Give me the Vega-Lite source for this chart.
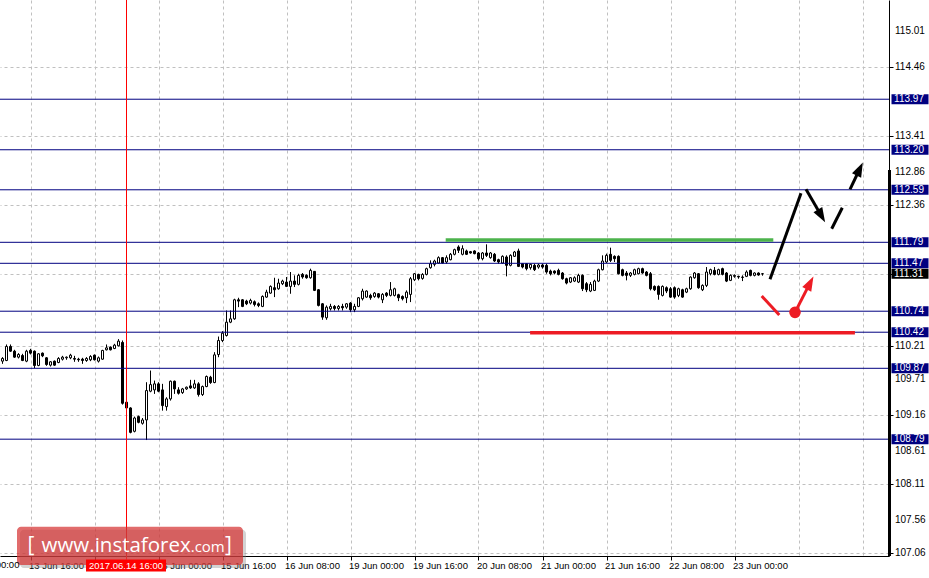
{
  "$schema": "https://vega.github.io/schema/vega-lite/v6.json",
  "width": 889,
  "height": 556,
  "autosize": {"type": "none"},
  "padding": {"left": 0, "top": 0, "right": 40, "bottom": 22},
  "background": "white",
  "config": {"view": {"stroke": null}, "axis": {"labelOverlap": false, "labelFlush": false, "labelBound": false}},
  "datasets": {
    "candles": [
      {"t":-7,"o":109.979,"h":110.04,"l":109.938,"c":110.02},
      {"t":-6,"o":109.989,"h":110.233,"l":109.979,"c":110.203},
      {"t":-5,"o":110.203,"h":110.233,"l":110.121,"c":110.131},
      {"t":-4,"o":110.131,"h":110.152,"l":110.03,"c":110.04},
      {"t":-3,"o":110.04,"h":110.101,"l":110.02,"c":110.081},
      {"t":-2,"o":110.065,"h":110.091,"l":109.979,"c":109.989},
      {"t":-1,"o":109.979,"h":110.152,"l":109.963,"c":110.131},
      {"t":0,"o":110.142,"h":110.167,"l":110.081,"c":110.101},
      {"t":1,"o":110.131,"h":110.142,"l":109.872,"c":109.913},
      {"t":2,"o":109.913,"h":110.101,"l":109.902,"c":110.091},
      {"t":3,"o":110.101,"h":110.111,"l":110.04,"c":110.06},
      {"t":4,"o":110.03,"h":110.04,"l":109.908,"c":109.928},
      {"t":5,"o":109.918,"h":109.979,"l":109.897,"c":109.969},
      {"t":6,"o":109.979,"h":109.989,"l":109.908,"c":109.918},
      {"t":7,"o":109.958,"h":110.04,"l":109.948,"c":110.02},
      {"t":8,"o":110.009,"h":110.06,"l":109.989,"c":110.04},
      {"t":9,"o":110.03,"h":110.05,"l":110.0,"c":110.04},
      {"t":10,"o":110.03,"h":110.091,"l":110.009,"c":110.07},
      {"t":11,"o":110.02,"h":110.06,"l":109.969,"c":110.009},
      {"t":12,"o":110.009,"h":110.03,"l":109.969,"c":110.0},
      {"t":13,"o":110.009,"h":110.03,"l":109.938,"c":109.989},
      {"t":14,"o":109.989,"h":110.04,"l":109.969,"c":110.02},
      {"t":15,"o":110.0,"h":110.07,"l":109.979,"c":110.05},
      {"t":16,"o":110.07,"h":110.081,"l":109.989,"c":110.0},
      {"t":17,"o":109.979,"h":110.05,"l":109.958,"c":110.03},
      {"t":18,"o":110.009,"h":110.152,"l":110.0,"c":110.142},
      {"t":19,"o":110.152,"h":110.233,"l":110.142,"c":110.182},
      {"t":20,"o":110.193,"h":110.203,"l":110.142,"c":110.152},
      {"t":21,"o":110.172,"h":110.243,"l":110.162,"c":110.223},
      {"t":22,"o":110.213,"h":110.315,"l":110.203,"c":110.284},
      {"t":23,"o":110.264,"h":110.294,"l":109.317,"c":109.337},
      {"t":24,"o":109.353,"h":109.368,"l":109.256,"c":109.266},
      {"t":25,"o":109.266,"h":109.276,"l":108.879,"c":108.894},
      {"t":26,"o":108.91,"h":109.134,"l":108.894,"c":109.113},
      {"t":27,"o":109.134,"h":109.149,"l":109.032,"c":109.047},
      {"t":28,"o":109.032,"h":109.113,"l":109.012,"c":109.083},
      {"t":29,"o":109.083,"h":109.658,"l":108.777,"c":109.531},
      {"t":30,"o":109.521,"h":109.836,"l":109.505,"c":109.622},
      {"t":31,"o":109.541,"h":109.683,"l":109.48,"c":109.633},
      {"t":32,"o":109.633,"h":109.658,"l":109.505,"c":109.521},
      {"t":33,"o":109.541,"h":109.633,"l":109.225,"c":109.302},
      {"t":34,"o":109.286,"h":109.429,"l":109.225,"c":109.404},
      {"t":35,"o":109.404,"h":109.683,"l":109.378,"c":109.673},
      {"t":36,"o":109.673,"h":109.683,"l":109.48,"c":109.556},
      {"t":37,"o":109.541,"h":109.582,"l":109.47,"c":109.49},
      {"t":38,"o":109.5,"h":109.571,"l":109.48,"c":109.556},
      {"t":39,"o":109.556,"h":109.592,"l":109.541,"c":109.582},
      {"t":40,"o":109.602,"h":109.694,"l":109.556,"c":109.571},
      {"t":41,"o":109.571,"h":109.694,"l":109.556,"c":109.633},
      {"t":42,"o":109.633,"h":109.658,"l":109.439,"c":109.47},
      {"t":43,"o":109.47,"h":109.607,"l":109.449,"c":109.592},
      {"t":44,"o":109.592,"h":109.76,"l":109.582,"c":109.745},
      {"t":45,"o":109.734,"h":109.755,"l":109.633,"c":109.653},
      {"t":46,"o":109.653,"h":110.116,"l":109.643,"c":110.075},
      {"t":47,"o":110.08,"h":110.354,"l":110.039,"c":110.293},
      {"t":48,"o":110.293,"h":110.436,"l":110.268,"c":110.405},
      {"t":49,"o":110.37,"h":110.751,"l":110.354,"c":110.573},
      {"t":50,"o":110.573,"h":110.751,"l":110.558,"c":110.624},
      {"t":51,"o":110.624,"h":110.93,"l":110.609,"c":110.914},
      {"t":52,"o":110.914,"h":110.945,"l":110.802,"c":110.894},
      {"t":53,"o":110.914,"h":110.925,"l":110.802,"c":110.813},
      {"t":54,"o":110.894,"h":110.914,"l":110.833,"c":110.853},
      {"t":55,"o":110.864,"h":110.93,"l":110.843,"c":110.904},
      {"t":56,"o":110.884,"h":110.904,"l":110.813,"c":110.843},
      {"t":57,"o":110.853,"h":110.874,"l":110.802,"c":110.828},
      {"t":58,"o":110.813,"h":110.981,"l":110.802,"c":110.965},
      {"t":59,"o":110.955,"h":111.067,"l":110.945,"c":111.031},
      {"t":60,"o":111.016,"h":111.133,"l":111.006,"c":111.118},
      {"t":61,"o":111.098,"h":111.25,"l":110.955,"c":111.067},
      {"t":62,"o":111.082,"h":111.235,"l":111.067,"c":111.169},
      {"t":63,"o":111.159,"h":111.22,"l":111.138,"c":111.199},
      {"t":64,"o":111.184,"h":111.261,"l":111.108,"c":111.118},
      {"t":65,"o":111.118,"h":111.337,"l":111.006,"c":111.199},
      {"t":66,"o":111.199,"h":111.286,"l":111.108,"c":111.149},
      {"t":67,"o":111.149,"h":111.311,"l":111.133,"c":111.286},
      {"t":68,"o":111.301,"h":111.322,"l":111.235,"c":111.261},
      {"t":69,"o":111.286,"h":111.301,"l":111.235,"c":111.25},
      {"t":70,"o":111.25,"h":111.388,"l":111.235,"c":111.362},
      {"t":71,"o":111.347,"h":111.352,"l":111.047,"c":111.057},
      {"t":72,"o":111.067,"h":111.077,"l":110.813,"c":110.828},
      {"t":73,"o":110.853,"h":110.864,"l":110.609,"c":110.65},
      {"t":74,"o":110.64,"h":110.828,"l":110.609,"c":110.802},
      {"t":75,"o":110.777,"h":110.853,"l":110.751,"c":110.813},
      {"t":76,"o":110.813,"h":110.833,"l":110.751,"c":110.782},
      {"t":77,"o":110.782,"h":110.833,"l":110.751,"c":110.813},
      {"t":78,"o":110.813,"h":110.853,"l":110.751,"c":110.792},
      {"t":79,"o":110.802,"h":110.864,"l":110.777,"c":110.853},
      {"t":80,"o":110.864,"h":110.879,"l":110.726,"c":110.762},
      {"t":81,"o":110.762,"h":110.853,"l":110.726,"c":110.813},
      {"t":82,"o":110.813,"h":110.955,"l":110.802,"c":110.945},
      {"t":83,"o":110.93,"h":111.082,"l":110.904,"c":111.047},
      {"t":84,"o":110.955,"h":111.057,"l":110.945,"c":111.047},
      {"t":85,"o":110.981,"h":111.006,"l":110.914,"c":110.945},
      {"t":86,"o":110.965,"h":111.031,"l":110.945,"c":111.016},
      {"t":87,"o":111.006,"h":111.016,"l":110.935,"c":110.955},
      {"t":88,"o":110.914,"h":111.016,"l":110.864,"c":110.996},
      {"t":89,"o":111.016,"h":111.031,"l":110.955,"c":110.981},
      {"t":90,"o":110.981,"h":111.184,"l":110.965,"c":111.067},
      {"t":91,"o":110.981,"h":111.098,"l":110.965,"c":111.082},
      {"t":92,"o":110.991,"h":111.006,"l":110.894,"c":110.945},
      {"t":93,"o":110.965,"h":110.981,"l":110.904,"c":110.93},
      {"t":94,"o":110.945,"h":111.057,"l":110.864,"c":111.031},
      {"t":95,"o":110.996,"h":111.261,"l":110.879,"c":111.235},
      {"t":96,"o":111.22,"h":111.322,"l":111.199,"c":111.311},
      {"t":97,"o":111.301,"h":111.311,"l":111.21,"c":111.235},
      {"t":98,"o":111.24,"h":111.32,"l":111.22,"c":111.3},
      {"t":99,"o":111.301,"h":111.403,"l":111.286,"c":111.388},
      {"t":100,"o":111.403,"h":111.515,"l":111.388,"c":111.464},
      {"t":101,"o":111.454,"h":111.525,"l":111.423,"c":111.505},
      {"t":102,"o":111.474,"h":111.576,"l":111.464,"c":111.556},
      {"t":103,"o":111.556,"h":111.566,"l":111.464,"c":111.474},
      {"t":104,"o":111.49,"h":111.591,"l":111.464,"c":111.556},
      {"t":105,"o":111.525,"h":111.627,"l":111.515,"c":111.607},
      {"t":106,"o":111.607,"h":111.693,"l":111.591,"c":111.678},
      {"t":107,"o":111.719,"h":111.744,"l":111.627,"c":111.668},
      {"t":108,"o":111.607,"h":111.744,"l":111.591,"c":111.693},
      {"t":109,"o":111.658,"h":111.678,"l":111.596,"c":111.607},
      {"t":110,"o":111.647,"h":111.658,"l":111.617,"c":111.627},
      {"t":111,"o":111.658,"h":111.668,"l":111.607,"c":111.617},
      {"t":112,"o":111.627,"h":111.642,"l":111.515,"c":111.54},
      {"t":113,"o":111.54,"h":111.642,"l":111.515,"c":111.627},
      {"t":114,"o":111.627,"h":111.759,"l":111.566,"c":111.591},
      {"t":115,"o":111.556,"h":111.642,"l":111.54,"c":111.627},
      {"t":116,"o":111.607,"h":111.627,"l":111.49,"c":111.505},
      {"t":117,"o":111.525,"h":111.54,"l":111.464,"c":111.49},
      {"t":118,"o":111.474,"h":111.591,"l":111.464,"c":111.576},
      {"t":119,"o":111.566,"h":111.591,"l":111.271,"c":111.439},
      {"t":120,"o":111.439,"h":111.607,"l":111.423,"c":111.591},
      {"t":121,"o":111.576,"h":111.658,"l":111.566,"c":111.642},
      {"t":122,"o":111.658,"h":111.693,"l":111.413,"c":111.423},
      {"t":123,"o":111.464,"h":111.474,"l":111.393,"c":111.413},
      {"t":124,"o":111.464,"h":111.474,"l":111.362,"c":111.388},
      {"t":125,"o":111.403,"h":111.464,"l":111.373,"c":111.454},
      {"t":126,"o":111.439,"h":111.464,"l":111.352,"c":111.373},
      {"t":127,"o":111.413,"h":111.464,"l":111.388,"c":111.444},
      {"t":128,"o":111.444,"h":111.464,"l":111.388,"c":111.413},
      {"t":129,"o":111.439,"h":111.464,"l":111.311,"c":111.337},
      {"t":130,"o":111.352,"h":111.373,"l":111.286,"c":111.311},
      {"t":131,"o":111.352,"h":111.362,"l":111.301,"c":111.322},
      {"t":132,"o":111.362,"h":111.388,"l":111.286,"c":111.301},
      {"t":133,"o":111.322,"h":111.337,"l":111.22,"c":111.235},
      {"t":134,"o":111.235,"h":111.25,"l":111.149,"c":111.169},
      {"t":135,"o":111.184,"h":111.261,"l":111.169,"c":111.25},
      {"t":136,"o":111.199,"h":111.271,"l":111.184,"c":111.25},
      {"t":137,"o":111.184,"h":111.311,"l":111.169,"c":111.286},
      {"t":138,"o":111.286,"h":111.301,"l":111.047,"c":111.082},
      {"t":139,"o":111.159,"h":111.184,"l":111.031,"c":111.067},
      {"t":140,"o":111.047,"h":111.184,"l":111.031,"c":111.149},
      {"t":141,"o":111.057,"h":111.22,"l":111.047,"c":111.199},
      {"t":142,"o":111.199,"h":111.388,"l":111.184,"c":111.372},
      {"t":143,"o":111.372,"h":111.591,"l":111.362,"c":111.505},
      {"t":144,"o":111.49,"h":111.617,"l":111.474,"c":111.591},
      {"t":145,"o":111.607,"h":111.708,"l":111.49,"c":111.515},
      {"t":146,"o":111.576,"h":111.591,"l":111.49,"c":111.54},
      {"t":147,"o":111.576,"h":111.591,"l":111.301,"c":111.311},
      {"t":148,"o":111.372,"h":111.388,"l":111.271,"c":111.286},
      {"t":149,"o":111.322,"h":111.352,"l":111.21,"c":111.286},
      {"t":150,"o":111.286,"h":111.337,"l":111.261,"c":111.322},
      {"t":151,"o":111.301,"h":111.388,"l":111.286,"c":111.372},
      {"t":152,"o":111.311,"h":111.403,"l":111.301,"c":111.388},
      {"t":153,"o":111.388,"h":111.403,"l":111.311,"c":111.322},
      {"t":154,"o":111.337,"h":111.352,"l":111.271,"c":111.286},
      {"t":155,"o":111.311,"h":111.337,"l":111.057,"c":111.082},
      {"t":156,"o":111.118,"h":111.133,"l":111.047,"c":111.067},
      {"t":157,"o":111.118,"h":111.133,"l":110.915,"c":110.996},
      {"t":158,"o":110.981,"h":111.133,"l":110.965,"c":111.118},
      {"t":159,"o":111.098,"h":111.118,"l":111.016,"c":111.047},
      {"t":160,"o":111.082,"h":111.108,"l":110.945,"c":110.955},
      {"t":161,"o":111.098,"h":111.118,"l":110.93,"c":110.955},
      {"t":162,"o":110.981,"h":111.098,"l":110.955,"c":111.082},
      {"t":163,"o":111.067,"h":111.082,"l":110.945,"c":110.955},
      {"t":164,"o":111.031,"h":111.098,"l":111.016,"c":111.082},
      {"t":165,"o":111.082,"h":111.271,"l":111.067,"c":111.26},
      {"t":166,"o":111.25,"h":111.337,"l":111.235,"c":111.322},
      {"t":167,"o":111.311,"h":111.322,"l":111.082,"c":111.098},
      {"t":168,"o":111.067,"h":111.149,"l":111.047,"c":111.133},
      {"t":169,"o":111.133,"h":111.413,"l":111.108,"c":111.337},
      {"t":170,"o":111.311,"h":111.388,"l":111.286,"c":111.373},
      {"t":171,"o":111.362,"h":111.413,"l":111.286,"c":111.301},
      {"t":172,"o":111.301,"h":111.388,"l":111.286,"c":111.373},
      {"t":173,"o":111.388,"h":111.403,"l":111.286,"c":111.301},
      {"t":174,"o":111.322,"h":111.337,"l":111.184,"c":111.199},
      {"t":175,"o":111.21,"h":111.301,"l":111.199,"c":111.286},
      {"t":176,"o":111.271,"h":111.301,"l":111.25,"c":111.286},
      {"t":177,"o":111.271,"h":111.281,"l":111.235,"c":111.261},
      {"t":178,"o":111.26,"h":111.286,"l":111.199,"c":111.255},
      {"t":179,"o":111.271,"h":111.362,"l":111.26,"c":111.337},
      {"t":180,"o":111.362,"h":111.373,"l":111.271,"c":111.286},
      {"t":181,"o":111.286,"h":111.332,"l":111.271,"c":111.322},
      {"t":182,"o":111.322,"h":111.332,"l":111.281,"c":111.291},
      {"t":183,"o":111.311,"h":111.322,"l":111.281,"c":111.31}
    ],
    "levels": [
      {"p":113.97,"lab":"113.97","kind":"level"},
      {"p":113.20,"lab":"113.20","kind":"level"},
      {"p":112.59,"lab":"112.59","kind":"level"},
      {"p":111.79,"lab":"111.79","kind":"level"},
      {"p":111.47,"lab":"111.47","kind":"level"},
      {"p":111.31,"lab":"111.31","kind":"bid"},
      {"p":110.74,"lab":"110.74","kind":"level"},
      {"p":110.42,"lab":"110.42","kind":"level"},
      {"p":109.87,"lab":"109.87","kind":"level"},
      {"p":108.79,"lab":"108.79","kind":"level"}
    ],
    "scaleLabels": [
      {"p":115.01,"lab":"115.01"},
      {"p":114.46,"lab":"114.46"},
      {"p":113.41,"lab":"113.41"},
      {"p":112.86,"lab":"112.86"},
      {"p":112.36,"lab":"112.36"},
      {"p":110.21,"lab":"110.21"},
      {"p":109.71,"lab":"109.71"},
      {"p":109.16,"lab":"109.16"},
      {"p":108.61,"lab":"108.61"},
      {"p":108.11,"lab":"108.11"},
      {"p":107.56,"lab":"107.56"},
      {"p":107.06,"lab":"107.06"}
    ],
    "hlines": [
      {"kind":"resistance","t1":103.8,"t2":185.7,"p":111.825},
      {"kind":"support","t1":124.9,"t2":206.1,"p":110.41}
    ],
    "arrows": [
      {"seg":"a","kind":"main","i":0,"t":184.875,"p":111.226},
      {"seg":"a","kind":"main","i":1,"t":192.625,"p":112.536},
      {"seg":"b","kind":"main","i":0,"t":193.875,"p":112.597},
      {"seg":"b","kind":"main","i":1,"t":197.75,"p":112.192},
      {"seg":"c","kind":"main","i":0,"t":200.3,"p":111.997},
      {"seg":"c","kind":"main","i":1,"t":202.95,"p":112.317},
      {"seg":"d","kind":"main","i":0,"t":204.875,"p":112.597},
      {"seg":"d","kind":"main","i":1,"t":207.3,"p":112.907},
      {"seg":"e","kind":"alt","i":0,"t":182.8,"p":110.971},
      {"seg":"e","kind":"alt","i":1,"t":187.2,"p":110.682},
      {"seg":"f","kind":"alt","i":0,"t":191.125,"p":110.723},
      {"seg":"f","kind":"alt","i":1,"t":194.9,"p":111.171}
    ],
    "heads": [
      {"kind":"main","t":197.75,"p":112.192,"dir":150},
      {"kind":"main","t":207.3,"p":112.907,"dir":25.5},
      {"kind":"alt","t":194.9,"p":111.171,"dir":27.4}
    ],
    "dot": [{"t":191.125,"p":110.723}],
    "brand": [
      {"s": "[", "x": 0.125, "a": "center"},
      {"s": "www.instaforex", "x": 40.05, "a": "right"},
      {"s": ".com", "x": 40.05, "a": "left"},
      {"s": "]", "x": 49.5, "a": "center"}
    ]
  },
  "layer": [
    {
      "data": {"name": "candles"},
      "mark": {"type": "rule", "color": "black", "strokeWidth": 1},
      "encoding": {
        "x": {"field": "t", "type": "quantitative", "title": null,
          "scale": {"domain": [-7.625, 214.625], "nice": false, "zero": false, "padding": 0},
          "axis": {
            "title": null, "orient": "bottom",
            "values": [0,8,16,24,32,40,48,56,64,72,80,88,96,104,112,120,128,136,144,152,160,168,176,184,192,200,208],
            "grid": true, "gridColor": "#c0c0c0", "gridDash": [3,3], "gridWidth": 1,
            "domain": true, "domainColor": "black", "domainWidth": 1,
            "ticks": true, "tickSize": 4, "tickColor": "black",
            "tickOpacity": {"condition": {"test": "datum.value % 16 === 0 && datum.value <= 176", "value": 1}, "value": 0},
            "labelExpr": "datum.value % 16 === 0 && datum.value <= 176 && datum.value !== 16 ? ['13 Jun 16:00','14 Jun 08:00','15 Jun 00:00','15 Jun 16:00','16 Jun 08:00','19 Jun 00:00','19 Jun 16:00','20 Jun 08:00','21 Jun 00:00','21 Jun 16:00','22 Jun 08:00','23 Jun 00:00'][datum.value / 16] : ''",
            "labelAlign": "left", "labelBaseline": "top", "labelPadding": 0, "labelOffset": -2,
            "labelFont": "Liberation Sans", "labelFontSize": 9.5, "labelColor": "black",
            "labelOverlap": false, "labelFlush": false, "labelBound": false
          }
        },
        "y": {"field": "l", "type": "quantitative", "title": null,
          "scale": {"domain": [107.01, 115.482], "nice": false, "zero": false, "padding": 0},
          "axis": {
            "title": null, "orient": "right",
            "values": [115.01,114.46,113.93,113.41,112.86,112.36,111.83,111.31,110.76,110.21,109.71,109.16,108.61,108.11,107.56,107.06],
            "grid": true, "gridColor": "#c0c0c0", "gridDash": [3,3], "gridWidth": 1,
            "domain": true, "domainColor": "black", "domainWidth": 1,
            "ticks": true, "tickSize": 4, "tickColor": "black",
            "labels": false, "labelOverlap": false
          }
        },
        "y2": {"field": "h"}
      }
    },
    {
      "data": {"name": "candles"},
      "mark": {"type": "bar", "orient": "vertical", "size": 2, "stroke": "black", "strokeWidth": 1},
      "encoding": {
        "x": {"field": "t", "type": "quantitative", "title": null, "scale": {"domain": [-7.625, 214.625], "nice": false, "zero": false, "padding": 0}},
        "y": {"field": "o", "type": "quantitative", "title": null, "scale": {"domain": [107.01, 115.482], "nice": false, "zero": false, "padding": 0}, "axis": {"orient": "right", "labelOverlap": false}},
        "y2": {"field": "c"},
        "fill": {"condition": {"test": "datum.c >= datum.o", "value": "white"}, "value": "black"}
      }
    },
    {
      "data": {"name": "levels"},
      "transform": [{"filter": "datum.kind === 'level'"}],
      "mark": {"type": "rule", "color": "#000080", "strokeWidth": 1},
      "encoding": {
        "y": {"field": "p", "type": "quantitative", "title": null, "scale": {"domain": [107.01, 115.482], "nice": false, "zero": false, "padding": 0}, "axis": {"orient": "right", "labelOverlap": false}}
      }
    },
    {
      "data": {"name": "hlines"},
      "mark": {"type": "rule", "strokeWidth": 3.5},
      "encoding": {
        "x": {"field": "t1", "type": "quantitative", "title": null, "scale": {"domain": [-7.625, 214.625], "nice": false, "zero": false, "padding": 0}},
        "x2": {"field": "t2"},
        "y": {"field": "p", "type": "quantitative", "title": null, "scale": {"domain": [107.01, 115.482], "nice": false, "zero": false, "padding": 0}, "axis": {"orient": "right", "labelOverlap": false}},
        "color": {"condition": {"test": "datum.kind === 'resistance'", "value": "#4cb34c"}, "value": "#ed1c24"}
      }
    },
    {
      "data": {"values": [{}]},
      "mark": {"type": "rule", "color": "#ff0000", "strokeWidth": 1, "clip": false},
      "encoding": {
        "x": {"datum": 24, "type": "quantitative", "title": null, "scale": {"domain": [-7.625, 214.625], "nice": false, "zero": false, "padding": 0}},
        "y": {"datum": 115.482, "type": "quantitative", "title": null, "scale": {"domain": [107.01, 115.482], "nice": false, "zero": false, "padding": 0}, "axis": {"orient": "right", "labelOverlap": false}},
        "y2": {"datum": 106.956}
      }
    },
    {
      "data": {"name": "arrows"},
      "mark": {"type": "line", "strokeWidth": 3, "strokeCap": "butt", "clip": false},
      "encoding": {
        "x": {"field": "t", "type": "quantitative", "title": null, "scale": {"domain": [-7.625, 214.625], "nice": false, "zero": false, "padding": 0}},
        "y": {"field": "p", "type": "quantitative", "title": null, "scale": {"domain": [107.01, 115.482], "nice": false, "zero": false, "padding": 0}, "axis": {"orient": "right", "labelOverlap": false}},
        "detail": {"field": "seg"},
        "order": {"field": "i"},
        "color": {"condition": {"test": "datum.kind === 'main'", "value": "black"}, "value": "#ed1c24"}
      }
    },
    {
      "data": {"name": "heads"},
      "mark": {"type": "point", "shape": "M0,-1L0.7,1L-0.7,1Z", "filled": true, "size": 210, "opacity": 1, "strokeWidth": 0},
      "encoding": {
        "x": {"field": "t", "type": "quantitative", "title": null, "scale": {"domain": [-7.625, 214.625], "nice": false, "zero": false, "padding": 0}},
        "y": {"field": "p", "type": "quantitative", "title": null, "scale": {"domain": [107.01, 115.482], "nice": false, "zero": false, "padding": 0}, "axis": {"orient": "right", "labelOverlap": false}},
        "angle": {"field": "dir", "type": "quantitative", "scale": null},
        "color": {"condition": {"test": "datum.kind === 'main'", "value": "black"}, "value": "#ed1c24"}
      }
    },
    {
      "data": {"name": "dot"},
      "mark": {"type": "point", "shape": "circle", "filled": true, "size": 135, "color": "#ed1c24", "opacity": 1},
      "encoding": {
        "x": {"field": "t", "type": "quantitative", "title": null, "scale": {"domain": [-7.625, 214.625], "nice": false, "zero": false, "padding": 0}},
        "y": {"field": "p", "type": "quantitative", "title": null, "scale": {"domain": [107.01, 115.482], "nice": false, "zero": false, "padding": 0}, "axis": {"orient": "right", "labelOverlap": false}}
      }
    },
    {
      "data": {"name": "scaleLabels"},
      "mark": {"type": "text", "align": "left", "baseline": "middle", "font": "Liberation Sans", "fontSize": 10, "color": "black", "clip": false},
      "encoding": {
        "x": {"datum": 216.125, "type": "quantitative", "title": null, "scale": {"domain": [-7.625, 214.625], "nice": false, "zero": false, "padding": 0}},
        "y": {"field": "p", "type": "quantitative", "title": null, "scale": {"domain": [107.01, 115.482], "nice": false, "zero": false, "padding": 0}, "axis": {"orient": "right", "labelOverlap": false}},
        "text": {"field": "lab"}
      }
    },
    {
      "data": {"name": "levels"},
      "mark": {"type": "bar", "orient": "horizontal", "size": 10, "clip": false},
      "encoding": {
        "x": {"datum": 215.25, "type": "quantitative", "title": null, "scale": {"domain": [-7.625, 214.625], "nice": false, "zero": false, "padding": 0}},
        "x2": {"datum": 224.5},
        "y": {"field": "p", "type": "quantitative", "title": null, "scale": {"domain": [107.01, 115.482], "nice": false, "zero": false, "padding": 0}, "axis": {"orient": "right", "labelOverlap": false}},
        "fill": {"condition": {"test": "datum.kind === 'bid'", "value": "black"}, "value": "#000080"}
      }
    },
    {
      "data": {"name": "levels"},
      "mark": {"type": "text", "align": "left", "baseline": "middle", "font": "Liberation Sans", "fontSize": 10, "color": "white", "clip": false},
      "encoding": {
        "x": {"datum": 215.9, "type": "quantitative", "title": null, "scale": {"domain": [-7.625, 214.625], "nice": false, "zero": false, "padding": 0}},
        "y": {"field": "p", "type": "quantitative", "title": null, "scale": {"domain": [107.01, 115.482], "nice": false, "zero": false, "padding": 0}, "axis": {"orient": "right", "labelOverlap": false}},
        "text": {"field": "lab"}
      }
    },
    {
      "data": {"values": [{}]},
      "mark": {"type": "rule", "color": "black", "strokeWidth": 3, "clip": false},
      "encoding": {
        "x": {"datum": 214.75, "type": "quantitative", "title": null, "scale": {"domain": [-7.625, 214.625], "nice": false, "zero": false, "padding": 0}},
        "y": {"datum": 112.891, "type": "quantitative", "title": null, "scale": {"domain": [107.01, 115.482], "nice": false, "zero": false, "padding": 0}, "axis": {"orient": "right", "labelOverlap": false}},
        "y2": {"datum": 107.01}
      }
    },
    {
      "data": {"values": [{}]},
      "mark": {"type": "rect", "color": "#808080", "opacity": 0.35, "cornerRadius": 4, "clip": false},
      "encoding": {
        "x": {"datum": -2.625, "type": "quantitative", "title": null, "scale": {"domain": [-7.625, 214.625], "nice": false, "zero": false, "padding": 0}},
        "x2": {"datum": 53.875},
        "y": {"datum": 107.41, "type": "quantitative", "title": null, "scale": {"domain": [107.01, 115.482], "nice": false, "zero": false, "padding": 0}, "axis": {"orient": "right", "labelOverlap": false}},
        "y2": {"datum": 106.826}
      }
    },
    {
      "data": {"values": [{}]},
      "mark": {"type": "rect", "color": "#d63333", "opacity": 0.72, "cornerRadius": 4, "clip": false},
      "encoding": {
        "x": {"datum": -3.375, "type": "quantitative", "title": null, "scale": {"domain": [-7.625, 214.625], "nice": false, "zero": false, "padding": 0}},
        "x2": {"datum": 53.125},
        "y": {"datum": 107.456, "type": "quantitative", "title": null, "scale": {"domain": [107.01, 115.482], "nice": false, "zero": false, "padding": 0}, "axis": {"orient": "right", "labelOverlap": false}},
        "y2": {"datum": 106.872}
      }
    },
    {
      "data": {"name": "brand"},
      "transform": [{"filter": "datum.a === 'center'"}],
      "mark": {"type": "text", "align": "center", "baseline": "alphabetic", "font": "Open Sans", "fontSize": 21, "color": "white", "clip": false},
      "encoding": {
        "x": {"field": "x", "type": "quantitative", "title": null, "scale": {"domain": [-7.625, 214.625], "nice": false, "zero": false, "padding": 0}},
        "y": {"datum": 107.065, "type": "quantitative", "title": null, "scale": {"domain": [107.01, 115.482], "nice": false, "zero": false, "padding": 0}, "axis": {"orient": "right", "labelOverlap": false}},
        "text": {"field": "s"}
      }
    },
    {
      "data": {"name": "brand"},
      "transform": [{"filter": "datum.a === 'right'"}],
      "mark": {"type": "text", "align": "right", "baseline": "alphabetic", "font": "Open Sans", "fontSize": 20.5, "color": "white", "clip": false},
      "encoding": {
        "x": {"field": "x", "type": "quantitative", "title": null, "scale": {"domain": [-7.625, 214.625], "nice": false, "zero": false, "padding": 0}},
        "y": {"datum": 107.065, "type": "quantitative", "title": null, "scale": {"domain": [107.01, 115.482], "nice": false, "zero": false, "padding": 0}, "axis": {"orient": "right", "labelOverlap": false}},
        "text": {"field": "s"}
      }
    },
    {
      "data": {"name": "brand"},
      "transform": [{"filter": "datum.a === 'left'"}],
      "mark": {"type": "text", "align": "left", "baseline": "alphabetic", "font": "Open Sans", "fontSize": 15, "color": "white", "clip": false},
      "encoding": {
        "x": {"field": "x", "type": "quantitative", "title": null, "scale": {"domain": [-7.625, 214.625], "nice": false, "zero": false, "padding": 0}},
        "y": {"datum": 107.065, "type": "quantitative", "title": null, "scale": {"domain": [107.01, 115.482], "nice": false, "zero": false, "padding": 0}, "axis": {"orient": "right", "labelOverlap": false}},
        "text": {"field": "s"}
      }
    },
    {
      "data": {"values": [{}]},
      "mark": {"type": "rect", "color": "#ff0000", "clip": false},
      "encoding": {
        "x": {"datum": 13.875, "type": "quantitative", "title": null, "scale": {"domain": [-7.625, 214.625], "nice": false, "zero": false, "padding": 0}},
        "x2": {"datum": 33.875},
        "y": {"datum": 106.956, "type": "quantitative", "title": null, "scale": {"domain": [107.01, 115.482], "nice": false, "zero": false, "padding": 0}, "axis": {"orient": "right", "labelOverlap": false}},
        "y2": {"datum": 106.773}
      }
    },
    {
      "data": {"values": [{"s": "2017.06.14 16:00"}]},
      "mark": {"type": "text", "align": "center", "baseline": "middle", "font": "Liberation Sans", "fontSize": 9.5, "color": "white", "clip": false},
      "encoding": {
        "x": {"datum": 23.875, "type": "quantitative", "title": null, "scale": {"domain": [-7.625, 214.625], "nice": false, "zero": false, "padding": 0}},
        "y": {"datum": 106.864, "type": "quantitative", "title": null, "scale": {"domain": [107.01, 115.482], "nice": false, "zero": false, "padding": 0}, "axis": {"orient": "right", "labelOverlap": false}},
        "text": {"field": "s"}
      }
    },
    {
      "data": {"values": [{"s": "13 Jun 00:00"}]},
      "mark": {"type": "text", "align": "left", "baseline": "top", "font": "Liberation Sans", "fontSize": 9.5, "color": "black", "dx": -2, "clip": false},
      "encoding": {
        "x": {"datum": -16, "type": "quantitative", "title": null, "scale": {"domain": [-7.625, 214.625], "nice": false, "zero": false, "padding": 0}},
        "y": {"datum": 106.949, "type": "quantitative", "title": null, "scale": {"domain": [107.01, 115.482], "nice": false, "zero": false, "padding": 0}, "axis": {"orient": "right", "labelOverlap": false}},
        "text": {"field": "s"}
      }
    }
  ]
}
